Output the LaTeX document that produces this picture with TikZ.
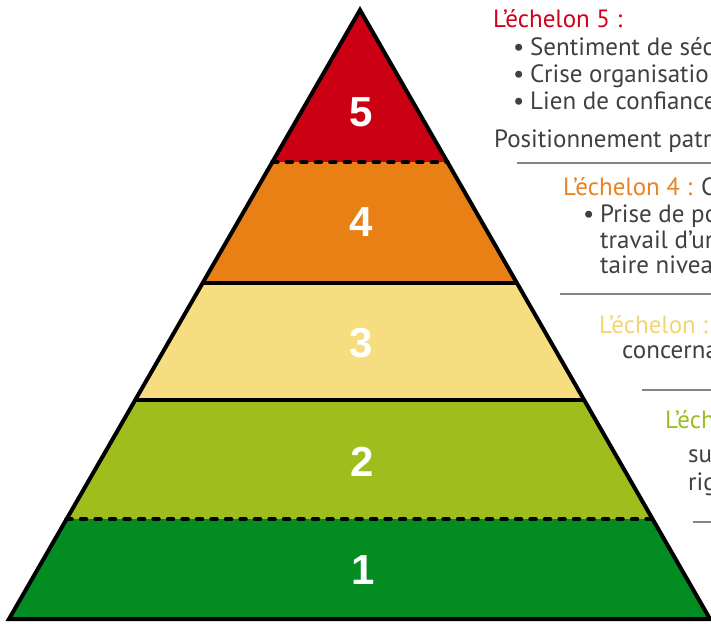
\documentclass[tikz,border=0pt]{standalone}
\usepackage{fontspec}
\setmainfont{PT Sans}
\newfontfamily\numfont{Liberation Sans}
\usetikzlibrary{calc}
\definecolor{lvlfive}{HTML}{CC0013}
\definecolor{lvlfour}{HTML}{E98015}
\definecolor{lvlthree}{HTML}{F5DD80}
\definecolor{lvltwo}{HTML}{A0BD1E}
\definecolor{lvlone}{HTML}{038C22}
\definecolor{txtgray}{HTML}{404040}
\definecolor{sepgray}{HTML}{858585}
\definecolor{headfive}{HTML}{D0021B}
\definecolor{headfour}{HTML}{EA8322}
\definecolor{headthree}{HTML}{F3D670}
\definecolor{headtwo}{HTML}{9CBD25}

\begin{document}
\begin{tikzpicture}[
x=1pt, y=-1pt,
num/.style={text=white,font=\numfont\bfseries\fontsize{42}{42}\selectfont},
txt/.style={anchor=base west,inner sep=0,text=txtgray,font=\fontsize{25}{29}\selectfont},
item/.style={txt},
rule/.style={draw=sepgray,line width=1.5pt},
cutdash/.style={line width=4.5pt,line cap=round,dash pattern=on 5pt off 9.5pt},
cutline/.style={line width=3.5pt}]
\useasboundingbox (0,0) rectangle (711,623);
\fill[white] (0,0) rectangle (711,623);

% pyramid corners
\coordinate (top) at (360,10);
\coordinate (bl) at (9,619);
\coordinate (br) at (710,619);
\coordinate (l4) at ($(top)!0.2496!(bl)$);
\coordinate (r4) at ($(top)!0.2496!(br)$);
\coordinate (l3) at ($(top)!0.448!(bl)$);
\coordinate (r3) at ($(top)!0.448!(br)$);
\coordinate (l2) at ($(top)!0.640!(bl)$);
\coordinate (r2) at ($(top)!0.640!(br)$);
\coordinate (l1) at ($(top)!0.836!(bl)$);
\coordinate (r1) at ($(top)!0.836!(br)$);

% bands
\fill[lvlfive] (top) -- (l4) -- (r4) -- cycle;
\fill[lvlfour] (l4) -- (l3) -- (r3) -- (r4) -- cycle;
\fill[lvlthree] (l3) -- (l2) -- (r2) -- (r3) -- cycle;
\fill[lvltwo] (l2) -- (l1) -- (r1) -- (r2) -- cycle;
\fill[lvlone] (l1) -- (bl) -- (br) -- (r1) -- cycle;

\draw[cutdash] (l4) -- (r4);
\draw[cutline] (l3) -- (r3);
\draw[cutline] (l2) -- (r2);
\draw[cutdash] (l1) -- (r1);
\draw[line width=4pt,line join=miter] (top) -- (bl) -- (br) -- cycle;

\node[num] (n5) at (361,112) {5};
\node[num] (n4) at (361,222) {4};
\node[num] (n3) at (361,343) {3};
\node[num] (n2) at (362,462) {2};
\node[num] (n1) at (363,570) {1};

% texts on the right
\node[txt,text=headfive] (h5) at (493,28) {L’échelon 5 :};
\node[item] (b5a) at (513,56) {\makebox[17pt][l]{\textbullet}Sentiment de séc};
\node[item] (b5b) at (513,83) {\makebox[17pt][l]{\textbullet}Crise organisatio};
\node[item] (b5c) at (513,110) {\makebox[17pt][l]{\textbullet}Lien de confiance};
\node[txt] (p5) at (494,147) {Positionnement patro};
\coordinate (s5) at (517,163);
\draw[rule] (s5) -- (s5 -| 711,0);

\node[txt] (h4) at (563,195) {\textcolor{headfour}{L’échelon 4 :} C};
\node[item] (b4a) at (583,222) {\makebox[17pt][l]{\textbullet}Prise de po};
\node[txt] (b4b) at (600,248) {travail d’un};
\node[txt] (b4c) at (600,273) {taire niveau};
\coordinate (s4) at (560,294);
\draw[rule] (s4) -- (s4 -| 711,0);

\node[txt,text=headthree] (h3) at (599,333) {L’échelon :};
\node[txt] (c3) at (622,358) {concerna};
\coordinate (s3) at (642,390);
\draw[rule] (s3) -- (s3 -| 711,0);

\node[txt,text=headtwo] (h2) at (665,428) {L’éch};
\node[txt] (c2a) at (688,462) {su};
\node[txt] (c2b) at (688,490) {rig};
\coordinate (s2) at (693,522);
\draw[rule] (s2) -- (s2 -| 711,0);
\end{tikzpicture}
\end{document}
